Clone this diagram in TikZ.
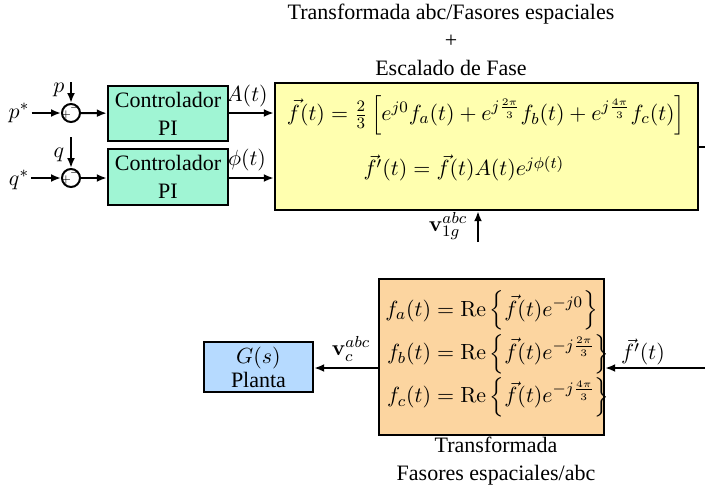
\documentclass[tikz,border=0pt]{standalone}
\usepackage{amsmath}
\usepackage[no-math]{fontspec}
\setmainfont{Liberation Serif}
\usetikzlibrary{arrows.meta}
\definecolor{ctrlgreen}{RGB}{160,245,212}
\definecolor{boxyellow}{RGB}{255,255,175}
\definecolor{boxorange}{RGB}{252,213,160}
\definecolor{boxblue}{RGB}{182,218,255}
\begin{document}
\begin{tikzpicture}[x=0.5pt,y=-0.5pt,
  font=\fontsize{11}{14}\selectfont,
  blk/.style={draw,line width=1.2pt,inner sep=0pt,align=center},
  sumnode/.style={draw,circle,line width=1pt,minimum size=9pt,inner sep=0pt},
  sig/.style={-{Latex[length=5pt,width=4pt]},line width=1pt},
  lbl/.style={inner sep=1pt}]
\useasboundingbox (0,0) rectangle (705,493);

% top title
\node[lbl,align=center] (title) at (451,40) {Transformada abc/Fasores espaciales\\+\\Escalado de Fase};

% summing junctions
\node[sumnode] (s1) at (71,113) {};
\node[sumnode] (s2) at (71,178) {};
\node[font=\fontsize{5}{5}\selectfont,inner sep=0pt] (s1p) at (66,115) {$+$};
\node[font=\fontsize{5}{5}\selectfont,inner sep=0pt] (s1m) at (75,108) {$-$};
\node[font=\fontsize{5}{5}\selectfont,inner sep=0pt] (s2p) at (66,180) {$+$};
\node[font=\fontsize{5}{5}\selectfont,inner sep=0pt] (s2m) at (75,173) {$-$};

% controllers
\node[blk,fill=ctrlgreen,minimum width=60pt,minimum height=27.5pt] (c1) at (168,113.5) {Controlador\\PI};
\node[blk,fill=ctrlgreen,minimum width=60pt,minimum height=28pt] (c2) at (168,177) {Controlador\\PI};

% yellow box
\node[blk,fill=boxyellow,minimum width=211.5pt,minimum height=63.5pt] (yb) at (486.5,146.5) {};
\node[lbl] (eq1) at (486,115) {$\vec{f}(t)=\frac{2}{3}\left[e^{j0}f_a(t)+e^{j\frac{2\pi}{3}}f_b(t)+e^{j\frac{4\pi}{3}}f_c(t)\right]$};
\node[lbl] (eq2) at (464,168) {$\vec{f}'(t)=\vec{f}(t)A(t)e^{j\phi(t)}$};

% orange box
\node[blk,fill=boxorange,minimum width=112.5pt,minimum height=78pt] (ob) at (491.5,357) {};
\node[lbl,anchor=west] (eq3) at (383,354) {$\begin{aligned}
f_a(t)&=\mathrm{Re}\left\{\vec{f}(t)e^{-j0}\right\}\\[-2pt]
f_b(t)&=\mathrm{Re}\left\{\vec{f}(t)e^{-j\frac{2\pi}{3}}\right\}\\[-2pt]
f_c(t)&=\mathrm{Re}\left\{\vec{f}(t)e^{-j\frac{4\pi}{3}}\right\}
\end{aligned}$};
\node[lbl,align=center] (bt) at (496,461) {Transformada\\Fasores espaciales/abc};

% plant
\node[blk,fill=boxblue,minimum width=54.5pt,minimum height=25pt] (pl) at (258.5,367) {$G(s)$\\[-2pt]Planta};

% inputs
\node[lbl] (ps) at (19,113) {$p^{*}$};
\node[lbl] (qs) at (19,180) {$q^{*}$};
\node[lbl] (pm) at (59,90) {$p$};
\node[lbl] (qm) at (59,155) {$q$};
\coordinate (ptop) at (71,82);
\coordinate (qtop) at (71,137);

\draw[sig] (ps) -- (s1);
\draw[sig] (qs.east |- s2) -- (s2);
\draw[sig] (ptop) -- (s1);
\draw[sig] (qtop) -- (s2);
\draw[sig] (s1) -- (c1);
\draw[sig] (s2) -- (c2.west |- s2);
\draw[sig] (c1.east |- s1) -- (yb.west |- s1);
\draw[sig] (c2.east |- s2) -- (yb.west |- s2);
\node[lbl] (la) at (247,96) {$A(t)$};
\node[lbl] (lp) at (247,160) {$\phi(t)$};

% yellow box output to the right edge
\coordinate (yout) at (705,147);
\draw[line width=1pt] (yb.east |- yout) -- (yout);

% v1g input
\coordinate (vin) at (478,242);
\draw[sig] (vin) -- (vin |- yb.south);
\node[lbl] (lv1) at (448,226) {$\mathbf{v}_{1g}^{abc}$};

% f' input from right edge
\coordinate (fin) at (705,368);
\draw[sig] (fin) -- (fin -| ob.east);
\node[lbl] (lf) at (643,352) {$\vec{f}'(t)$};

% to plant
\draw[sig] (ob.west |- fin) -- (pl.east |- fin);
\node[lbl] (lvc) at (351,349) {$\mathbf{v}_{c}^{abc}$};
\end{tikzpicture}
\end{document}
